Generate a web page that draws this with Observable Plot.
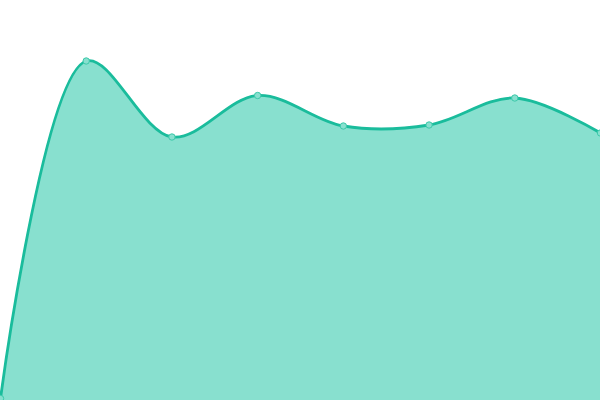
<!DOCTYPE html>
<html><head><meta charset="utf-8">
<script src="https://cdn.jsdelivr.net/npm/d3@7"></script>
<script src="https://cdn.jsdelivr.net/npm/@observablehq/plot@0.6"></script>
<style>body{margin:0;background:#fff}</style>
</head><body>
<div id="chart"></div>
<script>
const categories = [0, 1, 2, 3, 4, 5, 6, 7];
const values = [2, 339.5, 263.5, 305, 274.5, 275.5, 302.5, 267.5];
const data = categories.map((c, i) => ({x: c, y: values[i]}));
const chart = Plot.plot({
  width: 600, height: 400,
  margin: 0,
  x: {domain: [0, 7], axis: null},
  y: {domain: [0, 400], axis: null},
  marks: [
    Plot.areaY(data, {x: "x", y: "y", curve: "catmull-rom", fill: "#88e0cf"}),
    Plot.lineY(data, {x: "x", y: "y", curve: "catmull-rom", stroke: "#1abc9c", strokeWidth: 2.8}),
    Plot.dot(data, {x: "x", y: "y", r: 3.2, fill: "#88e0cf", stroke: "#3cc9aa", strokeWidth: 1})
  ]
});
document.getElementById("chart").appendChild(chart);
</script>
</body></html>
